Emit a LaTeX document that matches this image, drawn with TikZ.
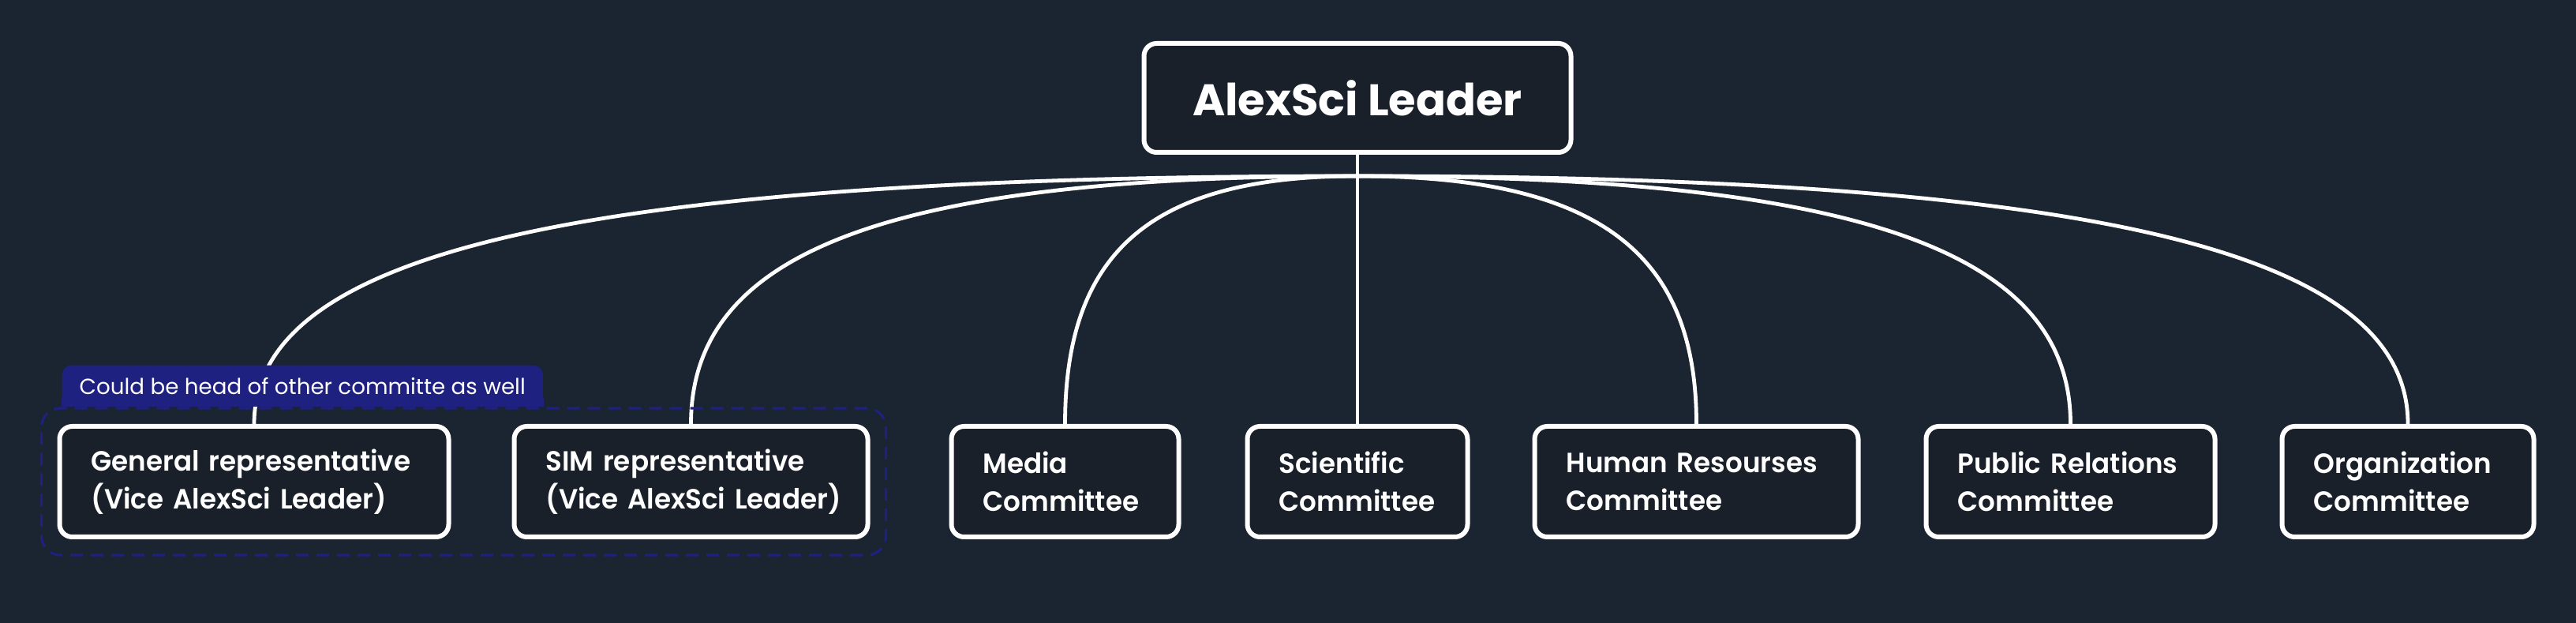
\documentclass[tikz,border=0pt]{standalone}
\usepackage{fontspec}
\setmainfont{Poppins}
\newfontfamily\medfont{Poppins SemiBold}[FakeStretch=0.97]
\usetikzlibrary{positioning,fit,calc}
\definecolor{bgnavy}{HTML}{1B2431}
\definecolor{boxfill}{HTML}{1A2029}
\definecolor{grpblue}{HTML}{1F2180}
\tikzset{
  unit/.style={draw=white, line width=1.5pt, rounded corners=4pt, fill=boxfill, text=white, align=left, inner xsep=10pt, minimum height=35pt, font=\medfont\fontsize{8.8}{12}\selectfont, execute at begin node={\hyphenpenalty=10000\relax}},
  link/.style={draw=white, line width=1.2pt},
  branch/.style={to path={.. controls ($(\tikztostart)!0.7!(\tikztostart -| \tikztotarget)$) and ($(\tikztotarget)!0.7!(\tikztostart -| \tikztotarget)$) .. (\tikztotarget)}},
  tab/.style={fill=grpblue, text=white, rounded corners=3pt, inner xsep=5.5pt, inner ysep=0pt, minimum height=13pt, font=\fontsize{6.93}{8}\selectfont}
}
\begin{document}
\begin{tikzpicture}[x=1pt, y=1pt]
\fill[bgnavy] (0,0) rectangle (816,-197.25);
\useasboundingbox (0,0) rectangle (816,-197.25);
\node[unit, font=\bfseries\fontsize{14}{16}\selectfont, align=center, minimum width=135.25pt, minimum height=34.5pt] (leader) at (430,-31) {AlexSci Leader};
\node[unit, text width=49.75pt, below=85.25pt of leader] (sci) {Scientific\\Committee};
\node[unit, text width=52pt, left=20.25pt of sci] (media) {Media\\Committee};
\node[unit, text width=92pt, left=25pt of media] (sim) {SIM~representative\\(Vice~AlexSci~Leader)};
\node[unit, text width=103.25pt, left=19.25pt of sim] (gen) {General~representative\\(Vice~AlexSci~Leader)};
\node[unit, text width=82.5pt, right=19.75pt of sci] (hum) {Human~Resourses\\Committee};
\node[unit, text width=71.5pt, right=20pt of hum] (pub) {Public~Relations\\Committee};
\node[unit, text width=59.75pt, right=19.75pt of pub] (org) {Organization\\Committee};
\coordinate (jn) at ([yshift=-6.75pt]leader.south);
\draw[link] (leader.south) -- (sci.north);
\draw[link] (jn) to[branch] (gen.north);
\draw[link] (jn) to[branch] (sim.north);
\draw[link] (jn) to[branch] (media.north);
\draw[link] (jn) to[branch] (hum.north);
\draw[link] (jn) to[branch] (pub.north);
\draw[link] (jn) to[branch] (org.north);
\node[draw=grpblue, dash pattern=on 4pt off 2.5pt, line width=0.8pt, rounded corners=6pt, inner sep=5pt, fit=(gen)(sim)] (grp) {};
\node[tab, anchor=south west] (note) at ([xshift=6.75pt]grp.north west) {Could be head of other committe as well};
\fill[grpblue] (note.south west) rectangle ([yshift=3pt]note.south east);
\end{tikzpicture}
\end{document}
